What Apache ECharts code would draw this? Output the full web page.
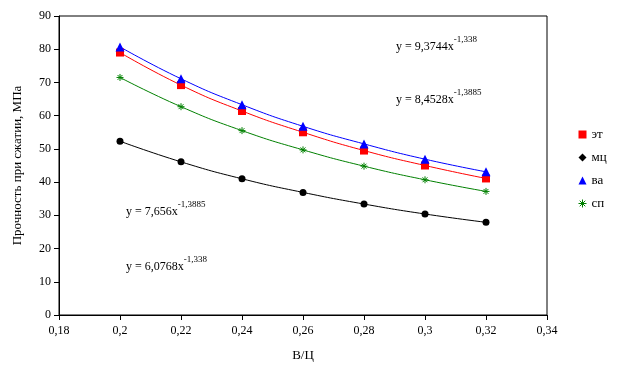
<!DOCTYPE html>
<html><head><meta charset="utf-8">
<script src="https://cdn.jsdelivr.net/npm/echarts@6/dist/echarts.min.js"></script>
<style>html,body{margin:0;padding:0;background:#fff}#c{width:623px;height:373px}</style>
</head><body><div id="c"></div>
<script>
const xValues = [0.2, 0.22, 0.24, 0.26, 0.28, 0.3, 0.32];
const etValues = [79.0, 69.2, 61.4, 55.0, 49.5, 45.0, 41.1];
const mcValues = [52.3, 46.1, 41.0, 36.9, 33.4, 30.4, 27.9];
const vaValues = [80.7, 71.1, 63.3, 56.8, 51.5, 46.9, 43.1];
const spValues = [71.5, 62.7, 55.5, 49.7, 44.8, 40.7, 37.2];
const seriesNames = ['эт', 'мц', 'ва', 'сп'];
const equations = [
  {a: '9,3744', b: '-1,338', left: 396, top: 35},
  {a: '8,4528', b: '-1,3885', left: 396, top: 88},
  {a: '7,656', b: '-1,3885', left: 126, top: 200},
  {a: '6,0768', b: '-1,338', left: 126, top: 255}
];
const F = 'Liberation Serif';
const pair = v => xValues.map((x, i) => [x, v[i]]);
const asterisk = 'path://M0,5L10,5M5,0L5,10M1.5,1.5L8.5,8.5M8.5,1.5L1.5,8.5';
const chart = echarts.init(document.getElementById('c'));
chart.setOption({
  animation: false,
  textStyle: {fontFamily: F},
  grid: {left: 59, right: 76, top: 16, bottom: 58, show: true, borderColor: '#000', borderWidth: 1},
  xAxis: {
    type: 'value', min: 0.18, max: 0.34, interval: 0.02,
    name: 'В/Ц', nameLocation: 'middle', nameGap: 34,
    nameTextStyle: {fontFamily: F, fontSize: 13, color: '#000'},
    axisLine: {lineStyle: {color: '#000'}},
    axisTick: {inside: false, length: 5, lineStyle: {color: '#000'}},
    splitLine: {show: false},
    axisLabel: {fontFamily: F, fontSize: 12, color: '#000', margin: 10,
      formatter: v => String(Math.round(v * 100) / 100).replace('.', ',')}
  },
  yAxis: {
    type: 'value', min: 0, max: 90, interval: 10,
    name: 'Прочность при сжатии, МПа', nameLocation: 'middle', nameGap: 35,
    nameTextStyle: {fontFamily: F, fontSize: 13, color: '#000'},
    axisLine: {show: true, lineStyle: {color: '#000'}},
    axisTick: {show: true, length: 5, lineStyle: {color: '#000'}},
    splitLine: {show: false},
    axisLabel: {fontFamily: F, fontSize: 12, color: '#000', margin: 8}
  },
  legend: {
    orient: 'vertical', left: 573, top: 123, itemGap: 10, itemWidth: 8, itemHeight: 8,
    textStyle: {fontFamily: F, fontSize: 13, color: '#000'},
    data: [
      {name: seriesNames[0], icon: 'rect'},
      {name: seriesNames[1], icon: 'diamond'},
      {name: seriesNames[2], icon: 'triangle'},
      {name: seriesNames[3], icon: asterisk, itemStyle: {borderColor: '#008000', borderWidth: 1}}
    ]
  },
  series: [
    {name: seriesNames[0], type: 'line', smooth: true, data: pair(etValues), symbol: 'rect', symbolSize: 8,
      lineStyle: {color: '#ff0000', width: 1}, itemStyle: {color: '#ff0000'}},
    {name: seriesNames[1], type: 'line', smooth: true, data: pair(mcValues), symbol: 'circle', symbolSize: 7,
      lineStyle: {color: '#000', width: 1}, itemStyle: {color: '#000'}},
    {name: seriesNames[2], type: 'line', smooth: true, data: pair(vaValues), symbol: 'triangle', symbolSize: 9,
      lineStyle: {color: '#0000ff', width: 1}, itemStyle: {color: '#0000ff'}},
    {name: seriesNames[3], type: 'line', smooth: true, data: pair(spValues), symbol: asterisk, symbolSize: 7,
      lineStyle: {color: '#008000', width: 1}, itemStyle: {color: '#008000', borderColor: '#008000', borderWidth: 1}}
  ],
  graphic: equations.map(e => ({
    type: 'text', left: e.left, top: e.top,
    style: {
      text: '{m|y = ' + e.a + 'x}{s|' + e.b + '}',
      rich: {
        m: {fontFamily: F, fontSize: 12, fill: '#000', verticalAlign: 'bottom', padding: [6, 0, 0, 0]},
        s: {fontFamily: F, fontSize: 9, fill: '#000', verticalAlign: 'top', padding: [0, 0, 6, 0]}
      }
    }
  }))
});
</script></body></html>
